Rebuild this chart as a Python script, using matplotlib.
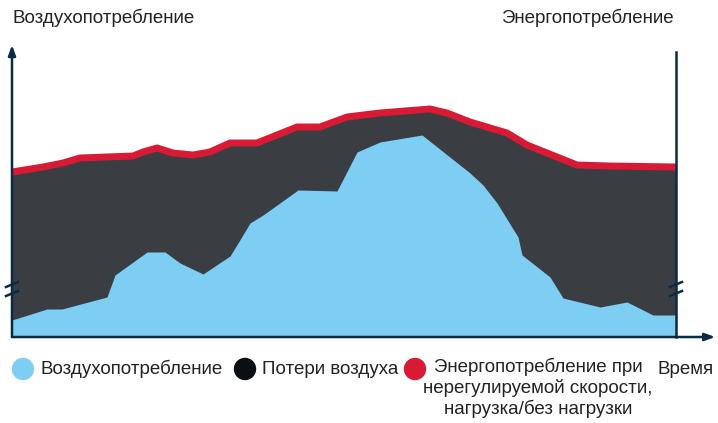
import matplotlib
matplotlib.use("Agg")
import matplotlib.pyplot as plt

# time axis (arbitrary units, 0 .. 664) and levels (arbitrary units, 0 .. 292)
energy_t = [0, 31, 51, 68, 121, 131, 145, 161, 181, 198, 218, 245, 285, 308,
            335, 368, 418, 435, 458, 495, 515, 565, 598, 664]
energy_v = [165, 170, 174, 179, 181, 185, 189, 184, 182, 185, 194, 194, 210, 210,
            220, 224, 228, 224, 215, 204, 192, 172, 171, 170]

air_t = [0, 35, 50, 95, 103, 135, 153, 168, 191, 218, 226, 238, 251, 286, 325,
         345, 368, 410, 458, 471, 485, 506, 510, 538, 551, 588, 615, 641, 664]
air_v = [17, 28, 28, 40, 62, 85, 85, 74, 63, 81, 94, 114, 122, 147, 146,
         185, 195, 202, 164, 152, 134, 100, 82, 60, 39, 30, 35, 22, 22]

legend_labels = ["Воздухопотребление", "Потери воздуха",
                 "Энергопотребление при\nнерегулируемой скорости,\nнагрузка/без нагрузки"]

BLUE = "#7ECEF4"
DARK = "#3A3E42"
RED = "#D91A35"
NAVY = "#0B2A44"
TEXT = "#222222"
FS = 13.5

plt.rcParams["font.family"] = ["Liberation Sans", "DejaVu Sans"]

W, H = 718, 423
fig = plt.figure(figsize=(W / 100, H / 100), dpi=100)

# plot area: left 12px, right 676px, bottom 337px, top 45px
ax = fig.add_axes([12 / W, (H - 337) / H, 664 / W, 292 / H])
ax.set_xlim(0, 664)
ax.set_ylim(0, 292)
ax.axis("off")

ax.fill_between(energy_t, 0, energy_v, color=DARK, linewidth=0, zorder=1)
ax.fill_between(air_t, 0, air_v, color=BLUE, linewidth=0, zorder=2)
ax.plot(energy_t, energy_v, color=RED, linewidth=5, solid_capstyle="butt",
        solid_joinstyle="round", zorder=3)

# axes: left arrow, bottom arrow, plain right line
arrow = dict(arrowstyle="-|>,head_length=0.6,head_width=0.22", color=NAVY, lw=1.8,
             shrinkA=0, shrinkB=0)
ax.annotate("", xy=(0, 1.0), xytext=(0, 0), xycoords="axes fraction",
            arrowprops=arrow, zorder=5)
ax.annotate("", xy=(1.059, 0), xytext=(0, 0), xycoords="axes fraction",
            arrowprops=arrow, zorder=5)
ax.plot([1, 1], [0, 0.976], transform=ax.transAxes, color=NAVY, lw=1.8,
        clip_on=False, zorder=5)

# axis break marks
for xc in (0, 664):
    for yc in (52, 43):
        ax.plot([xc - 6, xc + 6], [yc - 2, yc + 3], color=NAVY, lw=1.8,
                clip_on=False, zorder=6)

# overlay in figure pixels for texts and legend
ov = fig.add_axes([0, 0, 1, 1], zorder=10)
ov.set_xlim(0, W)
ov.set_ylim(H, 0)
ov.axis("off")
ov.patch.set_alpha(0)

ov.text(12, 18, "Воздухопотребление", fontsize=FS, color=TEXT, ha="left", va="center")
ov.text(674, 18, "Энергопотребление", fontsize=FS, color=TEXT, ha="right", va="center")

ov.scatter([23, 245, 415], [369, 369, 369], s=260, c=[BLUE, "#0A0F14", RED],
           linewidths=0)
ov.text(41, 369, legend_labels[0], fontsize=FS, color=TEXT, ha="left", va="center")
ov.text(262, 369, legend_labels[1], fontsize=FS, color=TEXT, ha="left", va="center")
ov.text(538, 358, legend_labels[2], fontsize=FS, color=TEXT, ha="center", va="top",
        multialignment="center", linespacing=1.2)
ov.text(714, 369, "Время", fontsize=FS, color=TEXT, ha="right", va="center")

fig.savefig("out.png", dpi=100)
